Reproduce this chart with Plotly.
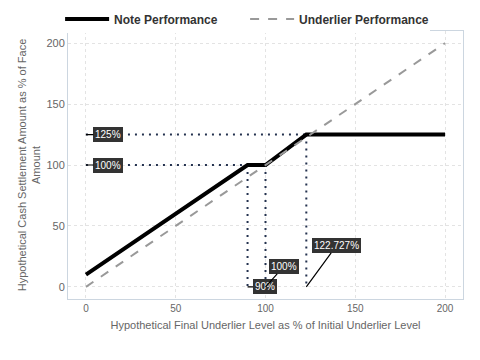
import plotly.graph_objects as go

# Data
note_x = [0, 90, 100, 122.727, 200]
note_y = [10, 100, 100, 125, 125]
under_x = [0, 200]
under_y = [0, 200]

h_levels = [125, 100]          # horizontal reference levels (y)
h_ends = [122.727, 90]         # x where horizontal dotted lines end
v_levels = [90, 100, 122.727]  # vertical reference levels (x)
v_tops = [100, 100, 125]       # y where vertical dotted lines start
h_labels = ["125%", "100%"]
v_labels = ["90%", "100%", "122.727%"]
tick_vals = [0, 50, 100, 150, 200]

fig = go.Figure()
dot_color = "#24324f"
for y, xe in zip(h_levels, h_ends):
    fig.add_trace(go.Scatter(x=[0, xe], y=[y, y], mode="lines",
                             line=dict(color=dot_color, width=2, dash="2px,5px"),
                             showlegend=False, hoverinfo="skip"))
for x, yt in zip(v_levels, v_tops):
    fig.add_trace(go.Scatter(x=[x, x], y=[yt, 0], mode="lines",
                             line=dict(color=dot_color, width=2, dash="2px,5px"),
                             showlegend=False, hoverinfo="skip"))

fig.add_trace(go.Scatter(x=note_x, y=note_y, mode="lines", name="Note Performance",
                         line=dict(color="black", width=4)))
fig.add_trace(go.Scatter(x=under_x, y=under_y, mode="lines", name="Underlier Performance",
                         line=dict(color="#999999", width=2, dash="dash")))

ann_style = dict(showarrow=True, arrowhead=0, arrowwidth=1.2, arrowcolor="black",
                 bgcolor="#333333", bordercolor="#333333", borderpad=1,
                 font=dict(color="white", size=10), standoff=0)
for y, t in zip(h_levels, h_labels):
    fig.add_annotation(x=0, y=y, text=t, ax=22, ay=0, **ann_style)
offsets = [(17, 0), (18, -20), (30, -41)]
for x, t, (ax, ay) in zip(v_levels, v_labels, offsets):
    fig.add_annotation(x=x, y=0, text=t, ax=ax, ay=ay, **ann_style)

axis_common = dict(showgrid=True, gridcolor="#e3e3e3", griddash="3px,3px", gridwidth=1,
                   zeroline=False, showline=True, linecolor="#ccd6e0", mirror=True,
                   title_font=dict(color="#666666", size=11), ticks="", automargin=False)
fig.update_xaxes(range=[-10, 210], tickvals=tick_vals,
                 tickfont=dict(color="#666666", size=10),
                 title_text="Hypothetical Final Underlier Level as % of Initial Underlier Level",
                 title_standoff=8, **axis_common)
fig.update_yaxes(range=[-10, 210], tickvals=tick_vals,
                 tickfont=dict(color="#666666", size=11),
                 title_text="Hypothetical Cash Settlement Amount as % of Face<br>Amount",
                 title_standoff=3, **axis_common)

fig.update_layout(
    width=480, height=360,
    margin=dict(l=68, r=17, t=31, b=61, autoexpand=False),
    paper_bgcolor="white", plot_bgcolor="white",
    font=dict(family="Liberation Sans, Arial, sans-serif"),
    legend=dict(orientation="h", x=-0.02, y=1.045, xanchor="left", yanchor="middle",
                entrywidth=126, entrywidthmode="pixels", itemwidth=44,
                font=dict(size=12, color="#333333", weight="bold")),
)

fig.write_html("out.html")
